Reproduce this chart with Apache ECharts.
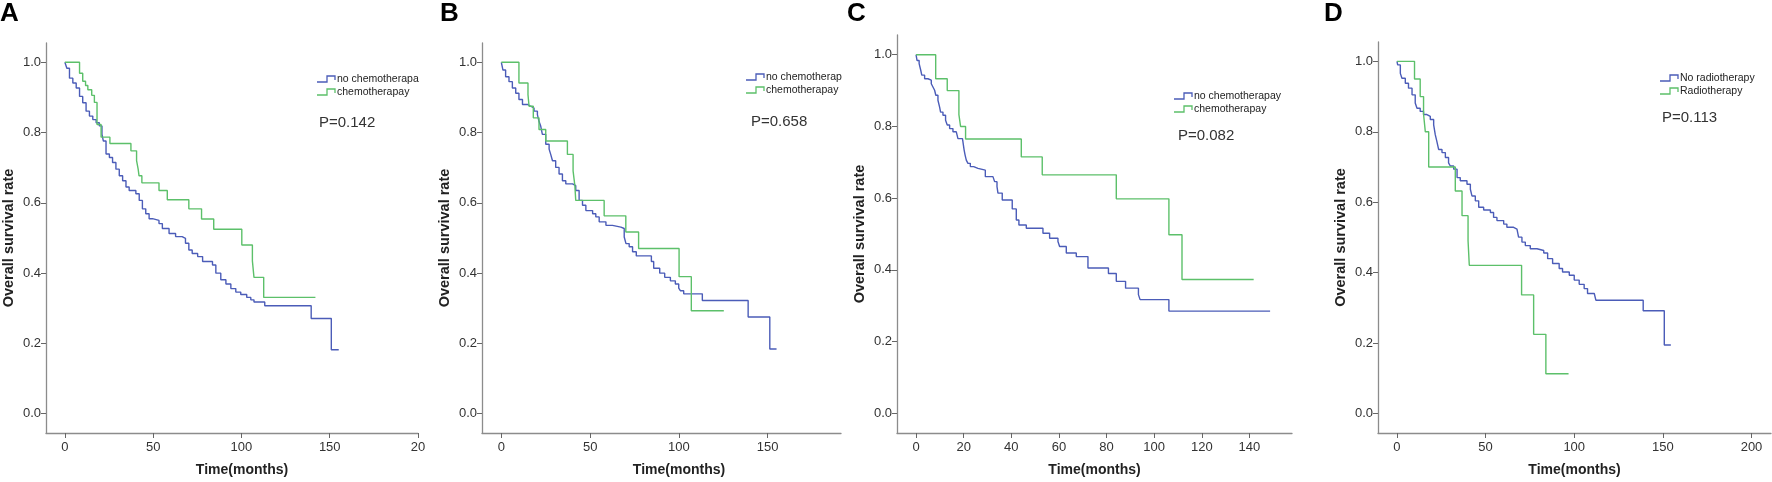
<!DOCTYPE html>
<html>
<head>
<meta charset="utf-8">
<script src="https://cdn.jsdelivr.net/npm/echarts@6/dist/echarts.min.js"></script>
<style>
html, body { margin: 0; padding: 0; background: #fff; }
#main { width: 1772px; height: 482px; }
</style>
</head>
<body>
<div id="main"></div>
<script>
// Kaplan-Meier curves: [months, survival]
var aNoChemo = [[0,1],[1.1,0.983],[2.6,0.955],[4.5,0.941],[6.4,0.927],[8.3,0.903],[10.1,0.885],[12.0,0.861],[13.9,0.847],[15.8,0.837],[17.7,0.828],[19.5,0.819],[21.0,0.795],[21.8,0.776],[23.3,0.739],[25.2,0.729],[27.0,0.715],[28.9,0.696],[30.8,0.677],[32.7,0.663],[34.6,0.645],[36.4,0.635],[40.2,0.626],[42.1,0.607],[43.9,0.583],[45.8,0.569],[47.7,0.555],[49.6,0.550],[53.3,0.541],[55.2,0.527],[59.0,0.513],[62.7,0.504],[66.4,0.499],[68.3,0.485],[70.2,0.466],[72.1,0.456],[75.2,0.447],[78.0,0.433],[83.6,0.423],[85.5,0.400],[88.3,0.381],[91.2,0.369],[94.0,0.356],[96.8,0.346],[99.6,0.339],[103.0,0.331],[105.3,0.324],[107.1,0.318],[113.2,0.307],[139.5,0.271],[150.9,0.182],[155.1,0.182]];
var aChemo = [[0,1],[8.3,0.969],[10.1,0.946],[11.7,0.934],[13.0,0.922],[15.2,0.906],[16.7,0.886],[18.2,0.823],[20.5,0.787],[25.5,0.769],[37.4,0.748],[40.6,0.720],[41.5,0.696],[42.0,0.677],[43.6,0.657],[53.3,0.635],[58.0,0.609],[70.2,0.583],[77.4,0.554],[84.3,0.525],[100.2,0.480],[106.2,0.435],[107.1,0.388],[112.6,0.331],[141.9,0.331]];

var bNoChemo = [[0,1],[0.9,0.978],[2.4,0.959],[4.3,0.945],[6.2,0.927],[8.1,0.912],[9.9,0.894],[11.9,0.880],[14.7,0.875],[16.5,0.870],[18.4,0.861],[20.3,0.851],[21.2,0.832],[22.2,0.818],[23.1,0.795],[25.0,0.767],[26.9,0.753],[27.8,0.738],[28.8,0.720],[30.6,0.701],[32.5,0.682],[34.4,0.663],[36.3,0.654],[40.1,0.649],[41.9,0.635],[43.8,0.607],[45.7,0.593],[47.6,0.578],[51.4,0.569],[53.2,0.560],[55.1,0.546],[58.9,0.536],[62.6,0.531],[67.3,0.527],[69.2,0.503],[70.2,0.484],[72.0,0.475],[73.9,0.461],[76.0,0.449],[84.5,0.433],[85.8,0.414],[89.2,0.400],[92.0,0.388],[95.2,0.378],[98.0,0.369],[99.9,0.357],[100.8,0.350],[102.7,0.341],[113.2,0.322],[139.0,0.275],[151.2,0.184],[155.0,0.184]];
var bChemo = [[0,1],[9.9,0.941],[15.0,0.908],[15.6,0.875],[18.0,0.842],[21.2,0.809],[25.0,0.776],[37.2,0.738],[40.4,0.691],[41.4,0.649],[41.9,0.607],[57.9,0.563],[70.1,0.517],[77.3,0.470],[100.1,0.390],[107.0,0.293],[125.3,0.293]];

var cNoChemo = [[0,1],[0.4,0.984],[1.3,0.975],[2.0,0.956],[2.4,0.943],[3.6,0.933],[5.0,0.929],[6.4,0.919],[7.1,0.910],[7.8,0.901],[8.3,0.887],[9.2,0.873],[9.9,0.854],[10.3,0.840],[11.3,0.831],[12.4,0.817],[13.1,0.804],[14.1,0.794],[15.5,0.785],[16.9,0.780],[17.6,0.766],[19.5,0.762],[20.2,0.734],[20.6,0.720],[21.1,0.706],[21.8,0.697],[22.8,0.688],[24.2,0.683],[26.0,0.678],[29.1,0.660],[32.3,0.655],[33.0,0.646],[34.0,0.632],[34.4,0.614],[36.2,0.595],[40.4,0.570],[42.1,0.539],[43.2,0.525],[46.3,0.516],[53.3,0.502],[56.1,0.488],[59.6,0.479],[60.3,0.465],[63.1,0.447],[67.3,0.437],[72.2,0.405],[80.8,0.390],[84.1,0.368],[88.0,0.349],[93.4,0.331],[94.1,0.317],[106.2,0.285],[148.7,0.285]];
var cChemo = [[0,1],[8.25,0.933],[13.1,0.900],[18.0,0.833],[18.7,0.800],[20.8,0.765],[44.2,0.715],[53.0,0.665],[84.1,0.598],[106.2,0.498],[111.7,0.373],[141.8,0.373]];

var dNoRadio = [[0,1],[0.4,0.990],[1.9,0.966],[2.8,0.952],[4.7,0.938],[6.5,0.924],[8.5,0.905],[10.3,0.882],[11.3,0.867],[13.1,0.858],[15.0,0.849],[16.9,0.844],[18.8,0.835],[20.7,0.820],[21.6,0.792],[22.5,0.773],[23.5,0.750],[25.4,0.741],[27.3,0.727],[29.1,0.712],[30.1,0.703],[32.0,0.694],[33.9,0.670],[35.7,0.661],[39.5,0.651],[41.4,0.637],[42.3,0.618],[44.2,0.604],[46.1,0.586],[48.9,0.578],[52.7,0.571],[54.5,0.557],[56.4,0.548],[60.2,0.538],[62.0,0.529],[65.8,0.524],[67.7,0.520],[68.6,0.501],[70.5,0.487],[72.4,0.477],[75.2,0.468],[79.0,0.463],[82.8,0.456],[85.0,0.440],[87.8,0.426],[91.5,0.412],[93.4,0.402],[97.2,0.393],[100.0,0.379],[102.8,0.367],[105.6,0.355],[107.5,0.341],[111.3,0.336],[112.2,0.322],[138.9,0.292],[150.8,0.195],[154.5,0.195]];
var dRadio = [[0,1],[9.9,0.950],[13.1,0.900],[15.0,0.850],[16.0,0.800],[17.9,0.700],[32.9,0.632],[36.7,0.562],[40.1,0.491],[40.8,0.421],[70.3,0.337],[77.1,0.225],[84.0,0.113],[96.8,0.113]];

// tick labels
var xTicksA = [0, 50, 100, 150, 200];
var xLabelsA = ['0', '50', '100', '150', '20'];   // last label is cut off in the figure
var xTicksB = [0, 50, 100, 150];
var xTicksC = [0, 20, 40, 60, 80, 100, 120, 140];
var xTicksD = [0, 50, 100, 150, 200];
var yTicks = [0, 0.2, 0.4, 0.6, 0.8, 1.0];

// legend texts and p values
var legendA = ['no chemotherapa', 'chemotherapay'];
var legendB = ['no chemotherap', 'chemotherapay'];
var legendC = ['no chemotherapay', 'chemotherapay'];
var legendD = ['No radiotherapy', 'Radiotherapy'];
var pValues = ['P=0.142', 'P=0.658', 'P=0.082', 'P=0.113'];
var panelLetters = ['A', 'B', 'C', 'D'];

var BLUE = '#4b5cb8';
var GREEN = '#5cc06a';
var FONT = 'Liberation Sans, Arial, sans-serif';

var panels = [
    { grid: {left: 44, top: 43, width: 374, height: 393}, xMin: -10.7, xMax: 200, xTicks: xTicksA, xLabels: xLabelsA,
      curves: [aNoChemo, aChemo], legend: legendA, namePad: 20, legendAt: [317, 79], pAt: [319, 123], letterAt: [0, 14] },
    { grid: {left: 482, top: 43, width: 359, height: 393}, xMin: -10.9, xMax: 191.3, xTicks: xTicksB, xLabels: null,
      curves: [bNoChemo, bChemo], legend: legendB, namePad: 35, legendAt: [746, 77], pAt: [751, 122], letterAt: [440, 14] },
    { grid: {left: 897, top: 35, width: 395, height: 399}, xMin: -8.0, xMax: 157.9, xTicks: xTicksC, xLabels: null,
      curves: [cNoChemo, cChemo], legend: legendC, namePad: 0, legendAt: [1174, 96], pAt: [1178, 136], letterAt: [847, 14] },
    { grid: {left: 1378, top: 42, width: 393, height: 393}, xMin: -10.7, xMax: 211, xTicks: xTicksD, xLabels: null,
      curves: [dNoRadio, dRadio], legend: legendD, namePad: 0, legendAt: [1660, 78], pAt: [1662, 118], letterAt: [1324, 14] }
];

var grids = [], xAxes = [], yAxes = [], series = [], graphics = [];

panels.forEach(function (p, i) {
    grids.push(p.grid);

    xAxes.push({
        type: 'value', gridIndex: i, min: p.xMin, max: p.xMax,
        axisLine: {show: true, onZero: false, lineStyle: {color: '#8c8c8c', width: 1.3}},
        axisTick: {show: true, length: 5, customValues: p.xTicks, lineStyle: {color: '#666'}},
        axisLabel: {
            customValues: p.xTicks, margin: 8, fontSize: 13, color: '#333', fontFamily: FONT,
            formatter: function (v) {
                if (p.xLabels) return p.xLabels[p.xTicks.indexOf(v)];
                return String(v);
            }
        },
        splitLine: {show: false},
        name: 'Time(months)', nameLocation: 'middle', nameGap: 30,
        nameTextStyle: {fontWeight: 'bold', fontSize: 14, color: '#222', fontFamily: FONT, padding: [0, 0, 0, p.namePad]}
    });

    yAxes.push({
        type: 'value', gridIndex: i, min: -0.055, max: 1.055,
        axisLine: {show: true, onZero: false, lineStyle: {color: '#8c8c8c', width: 1.3}},
        axisTick: {show: true, length: 5, customValues: yTicks, lineStyle: {color: '#666'}},
        axisLabel: {
            customValues: yTicks, margin: 5, fontSize: 13, color: '#333', fontFamily: FONT,
            formatter: function (v) { return v.toFixed(1); }
        },
        splitLine: {show: false},
        name: 'Overall survival rate', nameLocation: 'middle', nameGap: 30,
        nameTextStyle: {fontWeight: 'bold', fontSize: 14.5, color: '#222', fontFamily: FONT}
    });

    [BLUE, GREEN].forEach(function (c, k) {
        series.push({
            type: 'line', name: p.legend[k], xAxisIndex: i, yAxisIndex: i,
            data: p.curves[k], step: 'end', showSymbol: false, symbol: 'none',
            lineStyle: {color: c, width: 1.4}, itemStyle: {color: c}, silent: true
        });

        // legend entry: little step icon plus label
        var lx = p.legendAt[0], ly = p.legendAt[1] + k * 13;
        graphics.push({
            type: 'polyline', silent: true,
            shape: {points: [[lx, ly + 3], [lx + 10, ly + 3], [lx + 10, ly - 3], [lx + 18, ly - 3], [lx + 18, ly + 1]]},
            style: {stroke: c, lineWidth: 1.3, fill: null}
        });
        graphics.push({
            type: 'text', silent: true, x: lx + 20, y: ly,
            style: {text: p.legend[k], font: '10.5px ' + FONT, fill: '#222', verticalAlign: 'middle'}
        });
    });

    graphics.push({
        type: 'text', silent: true, x: p.pAt[0], y: p.pAt[1],
        style: {text: pValues[i], font: '15px ' + FONT, fill: '#333', verticalAlign: 'middle'}
    });
    graphics.push({
        type: 'text', silent: true, x: p.letterAt[0], y: p.letterAt[1],
        style: {text: panelLetters[i], font: 'bold 26px ' + FONT, fill: '#000', verticalAlign: 'middle'}
    });
});

var chart = echarts.init(document.getElementById('main'));
chart.setOption({
    animation: false,
    backgroundColor: '#fff',
    grid: grids,
    xAxis: xAxes,
    yAxis: yAxes,
    series: series,
    graphic: graphics
});
</script>
</body>
</html>
